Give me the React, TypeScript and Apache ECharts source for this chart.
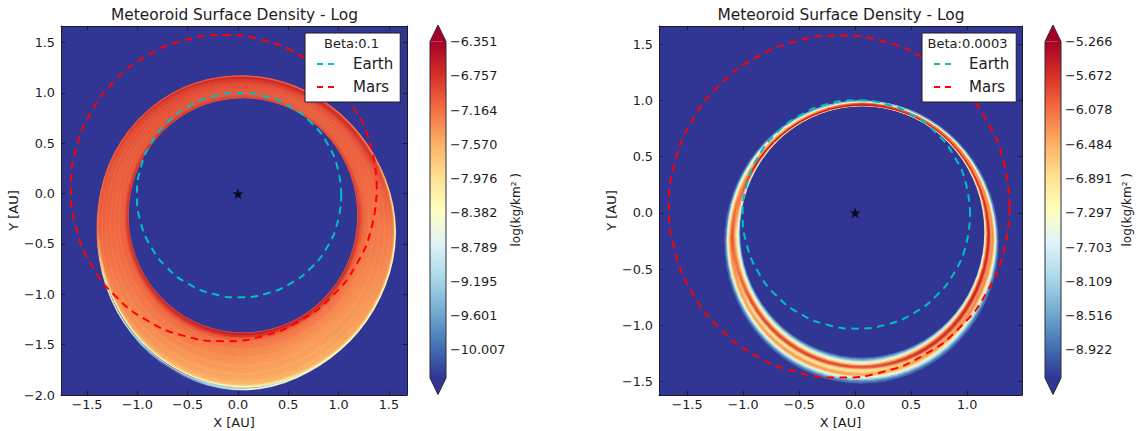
import React, { useEffect, useRef } from "react";
import * as echarts from "echarts";

const FONT = "DejaVu Sans";
const TITLE = "Meteoroid Surface Density - Log";

const earthX = [1.027, 0.992, 0.891, 0.73, 0.52, 0.275, 0.012, -0.251, -0.496, -0.706, -0.867, -0.968, -1.003, -0.968, -0.867, -0.706, -0.496, -0.251, 0.012, 0.275, 0.52, 0.73, 0.891, 0.992];
const earthY = [-0.015, 0.248, 0.493, 0.703, 0.864, 0.965, 1.0, 0.965, 0.864, 0.703, 0.493, 0.248, -0.015, -0.278, -0.523, -0.733, -0.894, -0.995, -1.03, -0.995, -0.894, -0.733, -0.523, -0.278];
const marsX = [1.38, 1.328, 1.176, 0.935, 0.62, 0.253, -0.14, -0.533, -0.9, -1.215, -1.456, -1.608, -1.66, -1.608, -1.456, -1.215, -0.9, -0.533, -0.14, 0.253, 0.62, 0.935, 1.176, 1.328];
const marsY = [0.055, 0.448, 0.815, 1.13, 1.371, 1.523, 1.575, 1.523, 1.371, 1.13, 0.815, 0.448, 0.055, -0.338, -0.705, -1.02, -1.261, -1.413, -1.465, -1.413, -1.261, -1.02, -0.705, -0.338];

const cbTicksA = [-6.351, -6.757, -7.164, -7.57, -7.976, -8.382, -8.789, -9.195, -9.601, -10.007];
const cbTicksB = [-5.266, -5.672, -6.078, -6.484, -6.891, -7.297, -7.703, -8.109, -8.516, -8.922];
const xTicksA = [-1.5, -1, -0.5, 0, 0.5, 1, 1.5];
const yTicksA = [-2, -1.5, -1, -0.5, 0, 0.5, 1, 1.5];
const xTicksB = [-1.5, -1, -0.5, 0, 0.5, 1];
const yTicksB = [-1.5, -1, -0.5, 0, 0.5, 1, 1.5];

// band edges: [centre x, centre y, x radius, y radius]
const innerA = [0.05, -0.215, 1.14, 1.167];
const outerA = [0.087, -0.39, 1.487, 1.56];
const innerB = [0.064, -0.17, 1.094, 1.12];
const outerB = [0.057, -0.26, 1.22, 1.255];
// outward correction of the outer edge, one per 30 degrees
const outerTrimA = [0.995, 0.985, 0.985, 1.0, 1.02, 1.02, 1.0, 1.0, 1.005, 1.0, 0.975, 0.98];
const outerTrimB = [1, 1, 1, 1, 1, 1, 1, 1, 1, 1, 1, 1];

// radial bin edges across the band, inner edge = 0, outer edge = 1
const binsA = [0, 0.015, 0.05, 0.09, 0.14, 0.2, 0.27, 0.34, 0.41, 0.48, 0.55, 0.62, 0.69, 0.76, 0.83, 0.89, 0.93, 0.955, 0.97, 0.985, 1];
const binsB = [0, 0.05, 0.1, 0.15, 0.2, 0.25, 0.3, 0.35, 0.4, 0.45, 0.5, 0.55, 0.6, 0.65, 0.7, 0.75, 0.8, 0.85, 0.9, 0.95, 1];

// log density: one row per 30 degrees around the band, inner edge to outer edge
const densityA = [
  [-7.0, -6.85, -6.9, -7.0, -7.1, -7.16, -7.2, -7.18, -7.22, -7.2, -7.24, -7.2, -7.26, -7.22, -7.28, -7.24, -7.3, -7.4, -7.7, -8.3],
  [-7.0, -6.9, -6.95, -7.05, -7.1, -7.06, -7.1, -7.08, -7.1, -7.06, -7.1, -7.02, -7.0, -6.92, -6.82, -6.78, -6.9, -7.0, -7.1, -7.3],
  [-7.0, -6.9, -6.95, -7.05, -7.08, -7.06, -7.1, -7.06, -7.1, -7.02, -7.04, -6.98, -6.95, -6.82, -6.72, -6.68, -6.78, -6.9, -7.0, -7.1],
  [-7.1, -6.85, -6.9, -6.95, -7.0, -7.03, -7.0, -7.04, -6.98, -7.0, -6.95, -6.96, -6.88, -6.85, -6.78, -6.7, -6.62, -6.68, -6.85, -7.05],
  [-7.0, -6.8, -6.85, -6.95, -7.0, -6.96, -7.02, -6.98, -7.0, -6.96, -6.98, -6.92, -6.94, -6.86, -6.86, -6.78, -6.74, -6.7, -6.8, -7.0],
  [-7.0, -6.75, -6.82, -6.95, -7.05, -7.02, -7.08, -7.03, -7.08, -7.03, -7.06, -7.0, -7.05, -6.98, -7.0, -6.93, -6.92, -6.86, -6.95, -7.05],
  [-7.0, -6.75, -6.85, -7.0, -7.1, -7.08, -7.14, -7.1, -7.14, -7.1, -7.14, -7.1, -7.14, -7.1, -7.14, -7.08, -7.12, -7.15, -7.2, -7.2],
  [-6.95, -6.7, -6.82, -7.0, -7.12, -7.14, -7.2, -7.2, -7.26, -7.24, -7.3, -7.28, -7.34, -7.32, -7.4, -7.5, -8.2, -8.4, -10.2, -8.4],
  [-6.9, -6.65, -6.78, -7.0, -7.14, -7.18, -7.26, -7.26, -7.32, -7.32, -7.4, -7.4, -7.46, -7.46, -7.55, -7.75, -8.35, -10.2, -8.4, -10.2],
  [-6.9, -6.6, -6.78, -7.05, -7.18, -7.22, -7.3, -7.32, -7.38, -7.4, -7.46, -7.46, -7.52, -7.52, -7.6, -7.7, -8.2, -8.4, -9.6, -8.4],
  [-6.95, -6.65, -6.82, -7.1, -7.22, -7.26, -7.34, -7.36, -7.42, -7.44, -7.48, -7.46, -7.52, -7.5, -7.56, -7.56, -7.7, -7.9, -8.2, -8.4],
  [-7.0, -6.7, -6.88, -7.1, -7.18, -7.22, -7.3, -7.32, -7.36, -7.36, -7.4, -7.38, -7.42, -7.42, -7.44, -7.44, -7.55, -7.7, -8.0, -8.3],
];
const densityB = [
  [-7.5, -7.0, -6.6, -6.2, -5.9, -5.65, -5.55, -5.65, -6.0, -6.3, -6.4, -6.3, -6.2, -6.4, -6.6, -6.9, -7.3, -7.8, -8.3, -8.8],
  [-7.6, -7.0, -6.5, -6.0, -5.7, -5.6, -5.7, -6.0, -6.3, -6.4, -6.2, -6.2, -6.4, -6.7, -7.0, -7.3, -7.7, -8.1, -8.4, -8.8],
  [-7.4, -6.8, -6.2, -5.8, -5.55, -5.5, -5.6, -5.9, -6.1, -6.0, -5.9, -6.0, -6.3, -6.6, -6.9, -7.2, -7.5, -7.9, -8.3, -8.7],
  [-7.0, -6.5, -6.0, -5.6, -5.5, -5.45, -5.5, -5.55, -5.6, -5.65, -5.7, -5.8, -5.9, -6.1, -6.3, -6.6, -6.9, -7.2, -7.6, -8.2],
  [-7.3, -6.7, -6.2, -5.75, -5.5, -5.45, -5.6, -5.9, -6.2, -6.4, -6.5, -6.5, -6.7, -6.9, -7.1, -7.4, -7.7, -8.0, -8.3, -8.7],
  [-7.8, -7.1, -6.5, -6.0, -5.7, -5.55, -5.6, -5.9, -6.2, -6.4, -6.4, -6.6, -6.8, -7.0, -7.2, -7.5, -7.8, -8.1, -8.5, -8.9],
  [-8.6, -8.0, -7.6, -7.2, -7.0, -6.8, -6.6, -6.4, -6.2, -5.9, -5.85, -5.9, -6.1, -6.4, -6.6, -6.9, -7.4, -7.9, -8.4, -8.9],
  [-8.7, -8.2, -7.7, -7.2, -6.8, -6.4, -6.0, -5.8, -5.95, -6.4, -6.9, -6.8, -6.5, -6.4, -6.6, -7.1, -7.6, -8.1, -8.5, -8.9],
  [-8.8, -8.4, -7.9, -7.4, -7.0, -6.5, -6.0, -5.75, -6.0, -6.6, -7.0, -6.9, -6.5, -6.35, -6.5, -7.0, -7.6, -8.1, -8.5, -8.9],
  [-8.9, -8.6, -8.2, -7.8, -7.3, -6.8, -6.2, -5.8, -6.1, -6.7, -7.0, -6.9, -6.6, -6.4, -6.6, -7.2, -7.8, -8.2, -8.6, -8.9],
  [-8.7, -8.2, -7.6, -7.0, -6.5, -6.0, -5.65, -5.6, -6.0, -6.5, -6.6, -6.3, -6.3, -6.6, -7.0, -7.4, -7.8, -8.2, -8.6, -8.9],
  [-8.2, -7.5, -6.9, -6.3, -5.8, -5.55, -5.6, -5.9, -6.3, -6.4, -6.2, -6.2, -6.5, -6.9, -7.3, -7.7, -8.1, -8.4, -8.7, -8.9],
];

const ramp = ["#313695", "#4575b4", "#74add1", "#abd9e9", "#e0f3f8", "#ffffbf", "#fee090", "#fdae61", "#f46d43", "#d73027", "#a50026"];
const rampRGB = ramp.map((c) => [1, 3, 5].map((i) => parseInt(c.slice(i, i + 2), 16)));

function colorOf(v: number, lo: number, hi: number) {
  const t = Math.max(0, Math.min(0.99999, (v - lo) / (hi - lo))) * (ramp.length - 1);
  const i = Math.floor(t);
  const k = t - i;
  const c = rampRGB[i].map((a, n) => Math.round(a + (rampRGB[i + 1][n] - a) * k));
  return `rgb(${c[0]},${c[1]},${c[2]})`;
}

function bandSeries(table: number[][], bins: number[], inner: number[], outer: number[], trim: number[], lo: number, hi: number, axis: number) {
  const n = table.length;
  const data: number[][] = [];
  table.forEach((row, i) => row.forEach((v, j) => data.push([i, j, v, table[(i + 1) % n][j]])));
  const step = 360 / n;
  const smoothTrim = (pos: number) => {
    const i1 = Math.floor(pos) % n;
    const u = pos - Math.floor(pos);
    const p0 = trim[(i1 + n - 1) % n];
    const p1 = trim[i1];
    const p2 = trim[(i1 + 1) % n];
    const p3 = trim[(i1 + 2) % n];
    return 0.5 * (2 * p1 + (p2 - p0) * u + (2 * p0 - 5 * p1 + 4 * p2 - p3) * u * u + (3 * p1 - p0 - 3 * p2 + p3) * u * u * u);
  };
  const edge = (deg: number, f: number) => {
    const a = (deg * Math.PI) / 180;
    const s = smoothTrim(((deg + 360) % 360) / step);
    const ix = inner[0] + inner[2] * Math.cos(a);
    const iy = inner[1] + inner[3] * Math.sin(a);
    const ox = outer[0] + outer[2] * s * Math.cos(a);
    const oy = outer[1] + outer[3] * s * Math.sin(a);
    return [ix + (ox - ix) * f, iy + (oy - iy) * f];
  };
  return {
    type: "custom",
    xAxisIndex: axis,
    yAxisIndex: axis,
    z: 1,
    silent: true,
    data,
    renderItem: (_p: any, api: any) => {
      const i = api.value(0);
      const j = api.value(1);
      const v0 = api.value(2);
      const v1 = api.value(3);
      const t0 = i * step - step / 2;
      const pts: number[][] = [];
      const f0 = bins[j];
      const f1 = bins[j + 1];
      for (let k = 0; k <= 6; k++) pts.push(api.coord(edge(t0 + (step * k) / 6, f0)));
      for (let k = 6; k >= 0; k--) pts.push(api.coord(edge(t0 + (step * k) / 6, f1)));
      const a = api.coord(edge(t0, (f0 + f1) / 2));
      const b = api.coord(edge(t0 + step, (f0 + f1) / 2));
      const stops = [
        { offset: 0, color: colorOf((table[(i + n - 1) % n][j] + v0) / 2, lo, hi) },
        { offset: 0.5, color: colorOf(v0, lo, hi) },
        { offset: 1, color: colorOf((v0 + v1) / 2, lo, hi) },
      ];
      const grad = new echarts.graphic.LinearGradient(a[0], a[1], b[0], b[1], stops, true);
      return { type: "polygon", shape: { points: pts }, style: { fill: grad, stroke: grad, lineWidth: 0.7 } };
    },
  };
}

function colorbarSeries(axis: number, lo: number, hi: number) {
  return {
    type: "custom",
    xAxisIndex: axis,
    yAxisIndex: axis,
    silent: true,
    data: [[0, lo, 1, hi]],
    renderItem: (_p: any, api: any) => {
      const a = api.coord([api.value(0), api.value(3)]);
      const b = api.coord([api.value(2), api.value(1)]);
      const tip = 16.5;
      const mid = (a[0] + b[0]) / 2;
      const stops = ramp.map((_c, i) => ({ offset: i / (ramp.length - 1), color: ramp[ramp.length - 1 - i] }));
      return {
        type: "group",
        children: [
          { type: "rect", shape: { x: a[0], y: a[1], width: b[0] - a[0], height: b[1] - a[1] }, style: { fill: new echarts.graphic.LinearGradient(0, 0, 0, 1, stops) } },
          { type: "polygon", shape: { points: [[a[0], a[1]], [mid, a[1] - tip], [b[0], a[1]]] }, style: { fill: ramp[10] } },
          { type: "polygon", shape: { points: [[a[0], b[1]], [mid, b[1] + tip], [b[0], b[1]]] }, style: { fill: ramp[0] } },
          {
            type: "polygon",
            shape: { points: [[a[0], a[1]], [mid, a[1] - tip], [b[0], a[1]], [b[0], b[1]], [mid, b[1] + tip], [a[0], b[1]]] },
            style: { fill: "none", stroke: "#2a2a3a", lineWidth: 1 },
          },
        ],
      };
    },
  };
}

const minusFmt = (d: number) => (v: number) => v.toFixed(d).replace("-", "\u2212");
const INK = "#1c1c1c";
const FRAME = "#1b1b2b";

function mainX(gridIndex: number, min: number, max: number, ticks: number[], top: boolean) {
  return {
    type: "value",
    gridIndex,
    min,
    max,
    position: top ? "top" : "bottom",
    name: top ? "" : "X [AU]",
    nameLocation: "middle",
    nameGap: 20,
    nameTextStyle: { fontFamily: FONT, fontSize: 13, color: INK },
    splitLine: { show: false },
    axisLine: { show: true, onZero: false, lineStyle: { color: FRAME, width: 1 } },
    axisTick: { show: true, inside: true, length: 4, customValues: ticks, lineStyle: { color: FRAME } },
    axisLabel: top ? { show: false } : { show: true, customValues: ticks, formatter: minusFmt(1), fontFamily: FONT, fontSize: 12.8, color: INK, margin: 3 },
  };
}
function mainY(gridIndex: number, min: number, max: number, ticks: number[], right: boolean) {
  return {
    type: "value",
    gridIndex,
    min,
    max,
    position: right ? "right" : "left",
    name: right ? "" : "Y [AU]",
    nameLocation: "middle",
    nameGap: 36,
    nameTextStyle: { fontFamily: FONT, fontSize: 13, color: INK },
    splitLine: { show: false },
    axisLine: { show: true, onZero: false, lineStyle: { color: FRAME, width: 1 } },
    axisTick: { show: true, inside: true, length: 4, customValues: ticks, lineStyle: { color: FRAME } },
    axisLabel: right ? { show: false } : { show: true, customValues: ticks, formatter: minusFmt(1), fontFamily: FONT, fontSize: 12.8, color: INK, margin: 6 },
  };
}
function cbX(gridIndex: number) {
  return { type: "value", gridIndex, min: 0, max: 1, show: false };
}
function cbY(gridIndex: number, lo: number, hi: number, ticks: number[], gap: number) {
  return {
    type: "value",
    gridIndex,
    min: lo,
    max: hi,
    position: "right",
    name: "log(kg/km\u00b2 )",
    nameLocation: "middle",
    nameGap: gap,
    nameRotate: 90,
    nameTextStyle: { fontFamily: FONT, fontSize: 12, color: INK },
    splitLine: { show: false },
    axisLine: { show: false, onZero: false },
    axisTick: { show: true, inside: true, length: 3, customValues: ticks, lineStyle: { color: "#444" } },
    axisLabel: { show: true, customValues: ticks, formatter: minusFmt(3), fontFamily: FONT, fontSize: 12.8, color: INK, margin: 4 },
  };
}

function closed(xs: number[], ys: number[]) {
  const pts = xs.map((x, i) => [x, ys[i]]);
  return [...pts, pts[0]];
}
function orbit(name: string, color: string, xs: number[], ys: number[], axis: number) {
  return {
    type: "line",
    name,
    xAxisIndex: axis,
    yAxisIndex: axis,
    data: closed(xs, ys),
    smooth: true,
    symbol: "none",
    showSymbol: false,
    silent: true,
    z: 3,
    lineStyle: { color, width: 2, type: [7.5, 5.5] },
    itemStyle: { color },
  };
}
const STAR = "path://M0,-10 L2.35,-3.1 9.5,-3.1 3.8,1.2 5.9,8.1 0,4 -5.9,8.1 -3.8,1.2 -9.5,-3.1 -2.35,-3.1 Z";
function star(axis: number) {
  return {
    type: "scatter",
    xAxisIndex: axis,
    yAxisIndex: axis,
    data: [[0, 0]],
    symbol: STAR,
    symbolSize: 11,
    itemStyle: { color: "#000" },
    silent: true,
    z: 5,
  };
}
function legendBox(left: number, gap: number, padRight: number) {
  return {
    left,
    top: 33,
    orient: "vertical",
    data: ["Earth", "Mars"],
    selectedMode: false,
    backgroundColor: "#fff",
    borderColor: FRAME,
    borderWidth: 1,
    borderRadius: 0,
    padding: [23.5, padRight, 7.5, 11],
    itemWidth: 19,
    itemHeight: 15,
    itemGap: 8,
    formatter: "{g| }{t|{name}}",
    itemStyle: { opacity: 0 },
    lineStyle: { type: [6, 5], width: 2, opacity: 1 },
    textStyle: {
      rich: {
        g: { width: gap, fontSize: 15, fontFamily: FONT },
        t: { fontSize: 15, fontFamily: FONT, color: INK },
      },
    },
  };
}

const titleStyle = { fontFamily: FONT, fontSize: 15.4, fontWeight: "normal", color: INK };
const legendTitle = { fontFamily: FONT, fontSize: 13, fontWeight: "normal", color: "#222" };

export default function App() {
  const ref = useRef<HTMLDivElement>(null);
  useEffect(() => {
    const chart = echarts.init(ref.current!, undefined, { renderer: "svg" });
    const loA = -10.34, hiA = -6.351, loB = -9.255, hiB = -5.266;
    chart.setOption({
      animation: false,
      backgroundColor: "#fff",
      title: [
        { text: TITLE, left: 229.5, top: 2, textAlign: "center", textStyle: titleStyle },
        { text: TITLE, left: 836, top: 2, textAlign: "center", textStyle: titleStyle },
        { text: "Beta:0.1", left: 346.5, top: 32, textAlign: "center", textStyle: legendTitle, z: 20 },
        { text: "Beta:0.0003", left: 962.5, top: 32, textAlign: "center", textStyle: legendTitle, z: 20 },
      ],
      legend: [legendBox(305, 12, 7), legendBox(922, 11, 7)],
      grid: [
        { left: 61, top: 26, width: 346, height: 369, show: true, backgroundColor: "#313695", borderWidth: 0, outerBoundsMode: "none" },
        { left: 659, top: 26, width: 363, height: 369, show: true, backgroundColor: "#313695", borderWidth: 0, outerBoundsMode: "none" },
        { left: 430, top: 41.5, width: 16, height: 336.5, outerBoundsMode: "none" },
        { left: 1045, top: 41.5, width: 16, height: 336.5, outerBoundsMode: "none" },
      ],
      xAxis: [
        mainX(0, -1.758, 1.68, xTicksA, false),
        mainX(1, -1.75, 1.49, xTicksB, false),
        cbX(2),
        cbX(3),
        mainX(0, -1.758, 1.68, xTicksA, true),
        mainX(1, -1.75, 1.49, xTicksB, true),
      ],
      yAxis: [
        mainY(0, -2.0, 1.665, yTicksA, false),
        mainY(1, -1.62, 1.66, yTicksB, false),
        cbY(2, loA, hiA, cbTicksA, 64),
        cbY(3, loB, hiB, cbTicksB, 60),
        mainY(0, -2.0, 1.665, yTicksA, true),
        mainY(1, -1.62, 1.66, yTicksB, true),
      ],
      series: [
        bandSeries(densityA, binsA, innerA, outerA, outerTrimA, loA, hiA, 0),
        orbit("Earth", "#00bfbf", earthX, earthY, 0),
        orbit("Mars", "#ff0000", marsX, marsY, 0),
        star(0),
        bandSeries(densityB, binsB, innerB, outerB, outerTrimB, loB, hiB, 1),
        orbit("Earth", "#00bfbf", earthX, earthY, 1),
        orbit("Mars", "#ff0000", marsX, marsY, 1),
        star(1),
        colorbarSeries(2, loA, hiA),
        colorbarSeries(3, loB, hiB),
      ],
    });
    return () => chart.dispose();
  }, []);
  return <div ref={ref} style={{ position: "fixed", left: 0, top: 0, width: 1136, height: 431 }} />;
}
